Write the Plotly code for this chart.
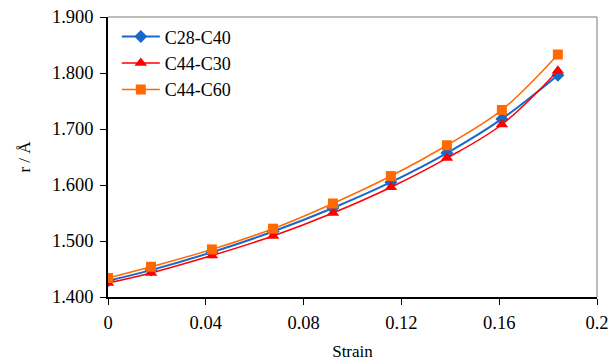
import plotly.graph_objects as go

strain = [0.0, 0.0176, 0.0425, 0.0675, 0.092, 0.1157, 0.1386, 0.1611, 0.184]
c28_c40 = [1.429, 1.448, 1.480, 1.517, 1.559, 1.605, 1.657, 1.718, 1.796]
c44_c30 = [1.425, 1.443, 1.474, 1.509, 1.550, 1.596, 1.648, 1.708, 1.804]
c44_c60 = [1.434, 1.454, 1.485, 1.522, 1.567, 1.616, 1.671, 1.734, 1.833]

x_ticks = [0, 0.04, 0.08, 0.12, 0.16, 0.2]
x_tick_labels = ["0", "0.04", "0.08", "0.12", "0.16", "0.2"]
y_ticks = [1.4, 1.5, 1.6, 1.7, 1.8, 1.9]

font = "Liberation Serif, Times New Roman, serif"

fig = go.Figure()
fig.add_trace(go.Scatter(x=strain, y=c28_c40, name="C28-C40", mode="lines+markers",
                         line=dict(color="#1868C8", width=2, shape="spline"),
                         marker=dict(symbol="diamond", size=10, color="#1868C8")))
fig.add_trace(go.Scatter(x=strain, y=c44_c30, name="C44-C30", mode="lines+markers",
                         line=dict(color="#FF0000", width=1.5, shape="spline"),
                         marker=dict(symbol="triangle-up", size=11, color="#FF0000")))
fig.add_trace(go.Scatter(x=strain, y=c44_c60, name="C44-C60", mode="lines+markers",
                         line=dict(color="#FF6A00", width=1.5, shape="spline"),
                         marker=dict(symbol="square", size=10, color="#FF6A00")))

fig.update_layout(
    width=609, height=361,
    margin=dict(l=108, r=12, t=17, b=64),
    paper_bgcolor="white", plot_bgcolor="white",
    font=dict(family=font, size=18, color="black"),
    showlegend=True,
    legend=dict(x=0.018, y=0.995, xanchor="left", yanchor="top",
                bgcolor="rgba(0,0,0,0)", font=dict(family=font, size=18),
                itemwidth=38, tracegroupgap=0),
    xaxis=dict(range=[0, 0.2], tickvals=x_ticks, ticktext=x_tick_labels,
               showgrid=False, zeroline=False, showline=True, linecolor="black",
               linewidth=1.5, ticks="outside", ticklen=6, tickcolor="black",
               ticklabelstandoff=2, automargin=False,
               title=dict(text="Strain", font=dict(family=font, size=17), standoff=14),
               tickfont=dict(family=font, size=18.5)),
    yaxis=dict(range=[1.4, 1.9], tickvals=y_ticks, tickformat=".3f",
               showgrid=False, zeroline=False, showline=True, linecolor="black",
               linewidth=1.5, ticks="outside", ticklen=6, tickcolor="black",
               ticklabelstandoff=3, automargin=False,
               title=dict(text="r / Å", font=dict(family=font, size=17), standoff=17),
               tickfont=dict(family=font, size=18.5)),
    shapes=[
        dict(type="line", xref="paper", yref="paper", x0=0, x1=1, y0=1, y1=1,
             line=dict(color="#A6A6A6", width=1.5), layer="below"),
        dict(type="line", xref="paper", yref="paper", x0=1, x1=1, y0=0, y1=1,
             line=dict(color="#A6A6A6", width=1.5), layer="below"),
    ],
)

fig.write_html("out.html")
